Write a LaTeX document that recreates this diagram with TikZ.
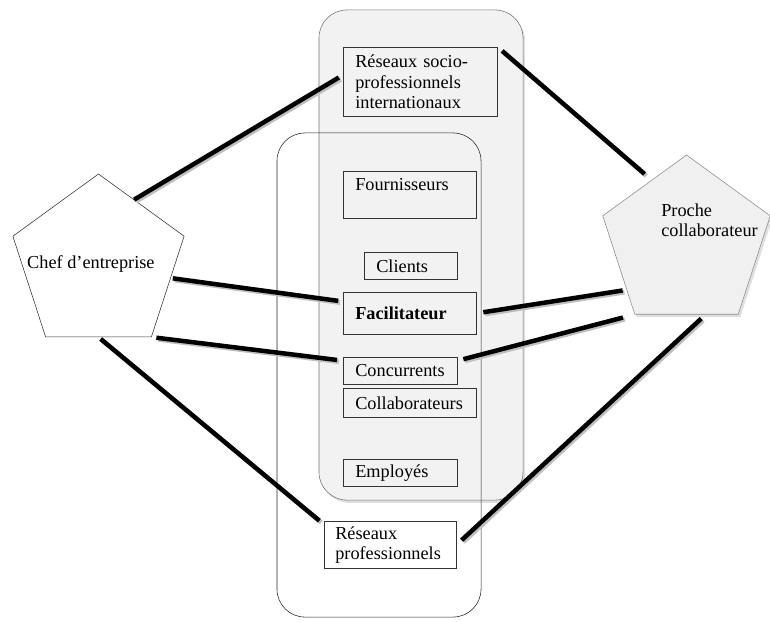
\documentclass[tikz,border=0pt]{standalone}
\usepackage{fontspec}
\setmainfont{Liberation Serif}
\usepackage{tikz}
\usetikzlibrary{shapes.geometric, shadows}
\tikzset{
	every node/.style={font=\fontsize{13pt}{14.5pt}\selectfont}, % taille du texte de la figure
	boite/.style={draw=black!80, anchor=north west, align=left, inner xsep=0.3cm, inner ysep=0pt}, % cadres des acteurs du réseau
	acteur/.style={regular polygon, regular polygon sides=5, minimum size=4.5cm, inner sep=0pt}, % pentagones
	reseau/.style={rounded corners=0.7cm, minimum width=5.1cm}, % grands cadres arrondis
	ombre/.style={drop shadow={opacity=0.25, shadow xshift=1.5pt, shadow yshift=-2pt}}, % ombre portée
	lien/.style={line width=3.2pt, preaction={draw=black!25, line width=3.2pt, transform canvas={xshift=1.3pt, yshift=-1.3pt}}}, % traits épais avec ombre
}

\begin{document}
\begin{tikzpicture}[x=0.025cm, y=-0.025cm]
	\useasboundingbox (0,0) rectangle (770,621);
	
	% Réseaux
	\node[reseau, ombre, draw=black!55, fill=black!5, minimum height=12.25cm] (inter) at (421,255) {};
	\node[reseau, draw=black!85, minimum height=12.1cm] (pro) at (379,375) {};
	
	% Cadres
	\node[boite, minimum height=1.725cm, text width=3.25cm] (rspi) at (343,47) {Réseaux socio-\\professionnels\\internationaux};
	\node[boite, minimum height=1.175cm, text width=2.725cm] (fourn) at (343,171) {Fournisseurs\\ \mbox{}};
	\node[boite, minimum height=0.675cm, text width=1.725cm] (clients) at (364,252) {Clients};
	\node[boite, minimum height=1.05cm, text width=2.725cm] (facil) at (343,292) {\textbf{Facilitateur}};
	\node[boite, minimum height=0.675cm, text width=2.25cm] (conc) at (343,357) {Concurrents};
	\node[boite, minimum height=0.725cm, text width=2.725cm] (collab) at (343,388) {Collaborateurs};
	\node[boite, minimum height=0.675cm, text width=2.25cm] (employes) at (343,459) {Employés};
	\node[boite, minimum height=1.175cm, text width=2.75cm, inner xsep=0.275cm] (respro) at (324,521) {Réseaux\\professionnels};
	
	% Acteurs
	\node[acteur, draw=black!80, fill=white,
		label={[xshift=-0.19cm]center:Chef d’entreprise}] (chef) at (98.5,264) {};
	\node[acteur, ombre, draw=black!45, fill=black!6, minimum size=4.4cm,
		label={[align=left, xshift=0.575cm, yshift=0.575cm]center:Proche\\collaborateur}] (proche) at (686.5,243) {};
	
	% Liens
	\draw[lien, shorten >=0.12cm] (chef.61) -- (rspi.175);
	\draw[lien, shorten <=0.15cm, shorten >=0.23cm] (rspi.north east) -- (proche.119);
	\draw[lien, shorten <=0.05cm, shorten >=0.12cm] (chef.349) -- (facil.170);
	\draw[lien, shorten <=0.12cm, shorten >=0.15cm] (chef.corner 4) -- (conc.170);
	\draw[lien, shorten <=0.07cm, shorten >=0.15cm] (chef.south) -- (respro.163);
	\draw[lien, shorten <=0.17cm, shorten >=0.1cm] (facil.east) -- (proche.218);
	\draw[lien, shorten <=0.15cm, shorten >=0.3cm] (conc.10) -- (proche.corner 3);
	\draw[lien, shorten <=0.17cm, shorten >=0.15cm] (respro.east) -- (proche.285);
\end{tikzpicture}
\end{document}
